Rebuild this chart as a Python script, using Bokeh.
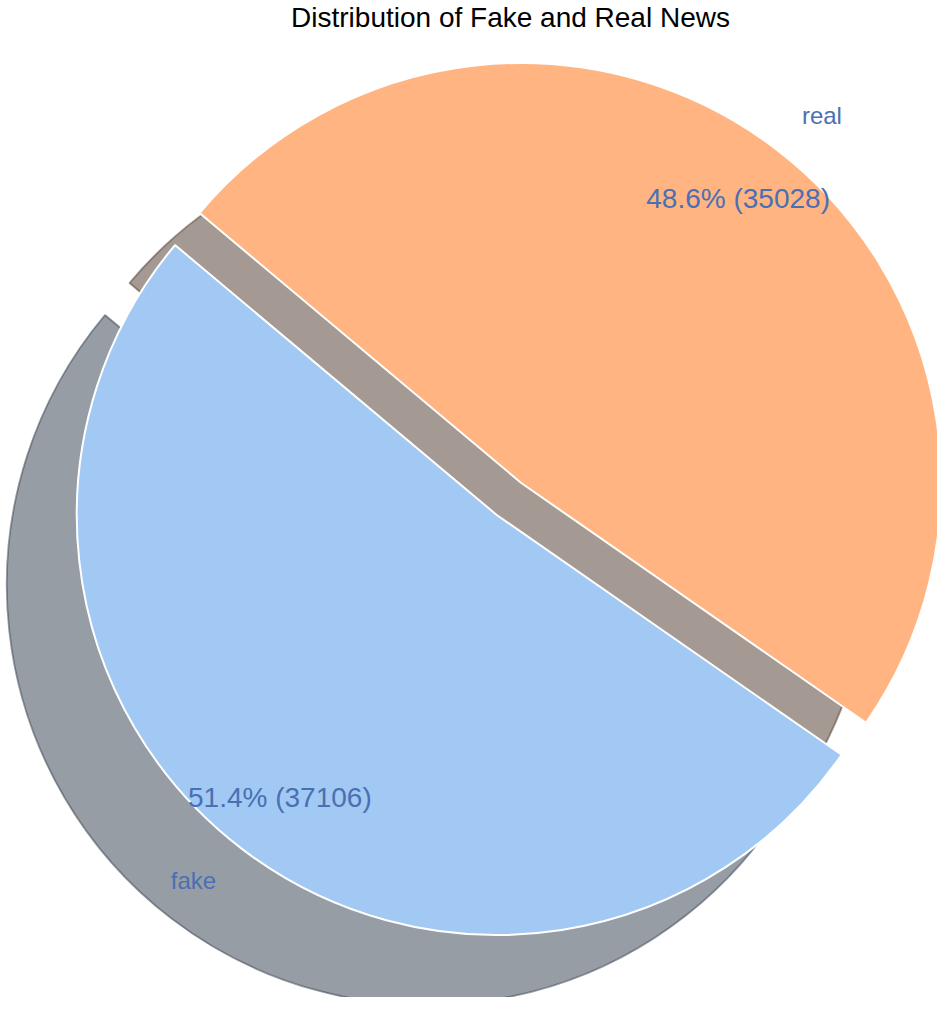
import math
from bokeh.plotting import figure
from bokeh.models import ColumnDataSource, Range1d
from bokeh.core.properties import value
from bokeh.embed import file_html
from bokeh.resources import INLINE

# ---------------- data ----------------
TITLE = "Distribution of Fake and Real News"
labels = ["fake", "real"]
counts = [37106, 35028]
colors = ["#a1c9f4", "#ffb482"]

# ---------------- style / layout ----------------
START_ANGLE = 140.0          # degrees, counter-clockwise
EXPLODE = [0.048, 0.048]     # fraction of radius
PCT_DIST = 0.85
LABEL_DIST = 1.1
SHADOW_DX, SHADOW_DY = -70 / 420, -70 / 420
R_PX = 420.0                 # pie radius in pixels
ORIGIN = (508.5, 498.5)      # pie origin in canvas pixels
W, H = 937, 997
TEXT_COLOR = "#4a70b2"
FONT = "Liberation Sans"
PCT_FS, LAB_FS, TITLE_FS = 28, 24, 28
TEXT_SHIFT_PX = 1.0          # small upward nudge of text anchors


def darker(hexc, f=0.3):
    h = hexc.lstrip("#")
    r, g, b = (int(h[i:i + 2], 16) for i in (0, 2, 4))
    return "#%02x%02x%02x" % (int(r * f), int(g * f), int(b * f))


total = float(sum(counts))
starts, ends, mids, cxs, cys = [], [], [], [], []
a = START_ANGLE
for c, e in zip(counts, EXPLODE):
    span = 360.0 * c / total
    s, en = a, a + span
    m = math.radians((s + en) / 2)
    starts.append(math.radians(s))
    ends.append(math.radians(en))
    mids.append(m)
    cxs.append(e * math.cos(m))
    cys.append(e * math.sin(m))
    a = en

src = ColumnDataSource(dict(
    x=cxs, y=cys,
    sx=[x + SHADOW_DX for x in cxs], sy=[y + SHADOW_DY for y in cys],
    start=starts, end=ends,
    color=colors, shadow=[darker(c) for c in colors],
))

x0 = (0 - ORIGIN[0]) / R_PX
x1 = (W - ORIGIN[0]) / R_PX
y1 = (ORIGIN[1] - 0) / R_PX
y0 = (ORIGIN[1] - H) / R_PX

p = figure(width=W, height=H, x_range=Range1d(x0, x1), y_range=Range1d(y0, y1),
           output_backend="svg", toolbar_location=None,
           x_axis_type=None, y_axis_type=None, min_border=0,
           outline_line_color=None, background_fill_color="white",
           border_fill_color="white")
p.xgrid.visible = False
p.ygrid.visible = False

# shadows
p.wedge(x="sx", y="sy", radius=1.0, start_angle="start", end_angle="end",
        fill_color="shadow", fill_alpha=0.5, line_color="shadow",
        line_alpha=0.5, line_width=1.8, source=src)
# wedges
p.wedge(x="x", y="y", radius=1.0, start_angle="start", end_angle="end",
        fill_color="color", line_color="white", line_width=2, source=src)

# texts
shift = TEXT_SHIFT_PX / R_PX
for i, lab in enumerate(labels):
    m = mids[i]
    pct = 100.0 * counts[i] / total
    px = cxs[i] + PCT_DIST * math.cos(m)
    py = cys[i] + PCT_DIST * math.sin(m) + shift
    p.text(x=[px], y=[py], text=["%.1f%% (%d)" % (pct, counts[i])],
           text_font=value(FONT), text_font_size="%dpx" % PCT_FS,
           text_color=TEXT_COLOR, text_align="center",
           text_baseline="alphabetic")
    lx = cxs[i] + LABEL_DIST * math.cos(m)
    ly = cys[i] + LABEL_DIST * math.sin(m) + shift
    p.text(x=[lx], y=[ly], text=[lab],
           text_font=value(FONT), text_font_size="%dpx" % LAB_FS,
           text_color=TEXT_COLOR,
           text_align="left" if math.cos(m) > 0 else "right",
           text_baseline="alphabetic")

# title
p.text(x=[(510 - ORIGIN[0]) / R_PX], y=[(ORIGIN[1] - 17) / R_PX], text=[TITLE],
       text_font=value(FONT), text_font_size="%dpx" % TITLE_FS,
       text_color="#000000", text_align="center", text_baseline="alphabetic")

open("out.html", "w").write(file_html(p, INLINE))
